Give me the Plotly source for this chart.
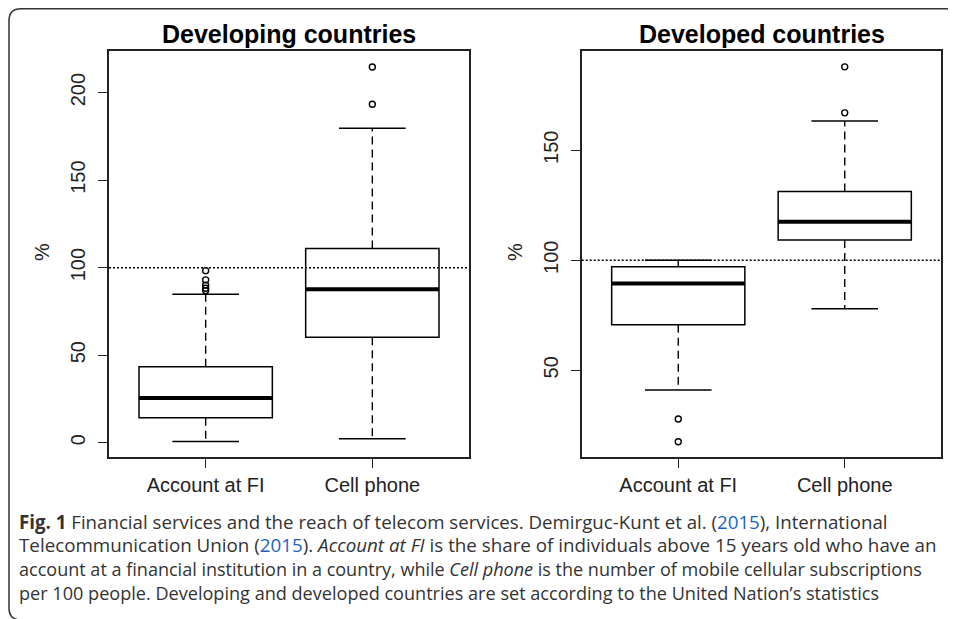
import plotly.graph_objects as go

# ---------------- data ----------------
categories = ["Account at FI", "Cell phone"]
positions = [1, 2]
panel_titles = ["Developing countries", "Developed countries"]

# Developing countries
dev_q1 = [14.3, 60.2]
dev_median = [25.5, 87.6]
dev_q3 = [43.4, 110.9]
dev_lower = [0.6, 2.3]
dev_upper = [84.8, 179.7]
dev_outliers = [[86.9, 88.2, 90.0, 93.0, 98.3], [193.4, 214.7]]

# Developed countries
ind_q1 = [70.7, 109.2]
ind_median = [89.4, 117.5]
ind_q3 = [97.1, 131.2]
ind_lower = [41.0, 78.0]
ind_upper = [100.0, 163.3]
ind_outliers = [[17.5, 27.9], [167.0, 187.9]]

ref_level = 100
y_ticks_left = [0, 50, 100, 150, 200]
y_ticks_right = [50, 100, 150]
y_range_left = [-8.2, 223.8]
y_range_right = [10.6, 195.1]
x_range = [0.42, 2.58]

# ---------------- layout helpers ----------------
W, H = 948, 611
OFF = 8  # page margin of the html body
def px(x):
    return (x - OFF) / W
def py(y):
    return 1 - (y - OFF) / H

BOX_HALF = 0.4
CAP_HALF = 0.2
FONT = "Liberation Sans, Arial, sans-serif"

fig = go.Figure()

panels = [
    dict(xa="x", ya="y", q1=dev_q1, med=dev_median, q3=dev_q3, lo=dev_lower,
         hi=dev_upper, out=dev_outliers),
    dict(xa="x2", ya="y2", q1=ind_q1, med=ind_median, q3=ind_q3, lo=ind_lower,
         hi=ind_upper, out=ind_outliers),
]

for p in panels:
    for i, c in enumerate(positions):
        # dashed whiskers
        fig.add_trace(go.Scatter(
            x=[c, c, None, c, c], y=[p["q3"][i], p["hi"][i], None, p["q1"][i], p["lo"][i]],
            mode="lines", line=dict(color="black", width=1.4, dash="8px,5px"),
            xaxis=p["xa"], yaxis=p["ya"], showlegend=False, hoverinfo="skip"))
        # whisker caps
        fig.add_trace(go.Scatter(
            x=[c - CAP_HALF, c + CAP_HALF, None, c - CAP_HALF, c + CAP_HALF],
            y=[p["hi"][i], p["hi"][i], None, p["lo"][i], p["lo"][i]],
            mode="lines", line=dict(color="black", width=1.5),
            xaxis=p["xa"], yaxis=p["ya"], showlegend=False, hoverinfo="skip"))
        # box
        fig.add_trace(go.Box(
            x=[c], q1=[p["q1"][i]], median=[p["med"][i]], q3=[p["q3"][i]],
            lowerfence=[p["q1"][i]], upperfence=[p["q3"][i]],
            width=2 * BOX_HALF, whiskerwidth=0, fillcolor="white",
            line=dict(color="black", width=1.5),
            xaxis=p["xa"], yaxis=p["ya"], showlegend=False, hoverinfo="skip"))
        # thick median
        fig.add_trace(go.Scatter(
            x=[c - BOX_HALF, c + BOX_HALF], y=[p["med"][i], p["med"][i]],
            mode="lines", line=dict(color="black", width=4),
            xaxis=p["xa"], yaxis=p["ya"], showlegend=False, hoverinfo="skip"))
        # outliers
        fig.add_trace(go.Scatter(
            x=[c] * len(p["out"][i]), y=p["out"][i], mode="markers",
            marker=dict(symbol="circle-open", size=6, color="black",
                        line=dict(width=1.4, color="black")),
            xaxis=p["xa"], yaxis=p["ya"], showlegend=False, hoverinfo="skip"))
    # dotted reference line
    fig.add_shape(type="line", xref=p["xa"] + " domain", yref=p["ya"],
                  x0=0, x1=1, y0=ref_level, y1=ref_level,
                  line=dict(color="black", width=1.5, dash="2px,2px"), layer="above")

axis_common = dict(showline=True, linecolor="#222", linewidth=1.5, mirror=True,
                   ticks="outside", ticklen=9, tickwidth=1.4, tickcolor="#222",
                   showgrid=False, zeroline=False, automargin=False,
                   tickfont=dict(family=FONT, size=20, color="#222"))

fig.update_layout(
    width=W, height=H, autosize=False,
    margin=dict(l=0, r=0, t=0, b=0),
    paper_bgcolor="white", plot_bgcolor="white",
    xaxis=dict(domain=[px(109), px(469)], range=x_range, tickvals=positions,
               ticktext=categories, anchor="y", ticklabelstandoff=0, **axis_common),
    yaxis=dict(domain=[py(457), py(51)], range=y_range_left, tickvals=y_ticks_left,
               tickangle=-90, anchor="x", ticklabelstandoff=5, **axis_common),
    xaxis2=dict(domain=[px(581.7), px(941.3)], range=x_range, tickvals=positions,
                ticktext=categories, anchor="y2", ticklabelstandoff=0, **axis_common),
    yaxis2=dict(domain=[py(457), py(51)], range=y_range_right, tickvals=y_ticks_right,
                tickangle=-90, anchor="x2", ticklabelstandoff=5, **axis_common),
)

# panel titles and y labels
for title, cx in zip(panel_titles, [289, 761.5]):
    fig.add_annotation(text="<b>" + title + "</b>", x=px(cx), y=py(34), xref="paper",
                       yref="paper", showarrow=False, xanchor="center", yanchor="middle",
                       font=dict(family=FONT, size=25, color="black"))
for lx in [42, 515]:
    fig.add_annotation(text="%", x=px(lx), y=py(252), xref="paper", yref="paper",
                       showarrow=False, textangle=-90, xanchor="center", yanchor="middle",
                       font=dict(family=FONT, size=20, color="#222"))

# caption
blue = "#1a63c6"
cap_lines = [
    "<b>Fig. 1</b> Financial services and the reach of telecom services. Demirguc-Kunt et al. "
    "(<span style='color:%s'>2015</span>), International" % blue,
    "Telecommunication Union (<span style='color:%s'>2015</span>). <i>Account at FI</i> is the "
    "share of individuals above 15 years old who have an" % blue,
    "account at a financial institution in a country, while <i>Cell phone</i> is the number of "
    "mobile cellular subscriptions",
    "per 100 people. Developing and developed countries are set according to the United Nation\u2019s statistics",
]
cap_sizes = [18.7, 18.8, 18.05, 18.1]
for k, (line, fs) in enumerate(zip(cap_lines, cap_sizes)):
    fig.add_annotation(text=line, x=px(17), y=py(521 + 24 * k), xref="paper", yref="paper",
                       showarrow=False, xanchor="left", yanchor="middle",
                       font=dict(family="Open Sans, sans-serif", size=fs, color="#333"))

# rounded outer frame (decoration)
x0, y0, r = 9, 8.8, 12
xb, yb = 1000, 620
path = (f"M {px(xb)},{py(y0)} L {px(x0 + r)},{py(y0)} "
        f"Q {px(x0)},{py(y0)} {px(x0)},{py(y0 + r)} "
        f"L {px(x0)},{py(yb - r)} Q {px(x0)},{py(yb)} {px(x0 + r)},{py(yb)} "
        f"L {px(xb)},{py(yb)}")
fig.add_shape(type="path", path=path, xref="paper", yref="paper",
              line=dict(color="#333", width=1.5))

fig.write_html("out.html")
